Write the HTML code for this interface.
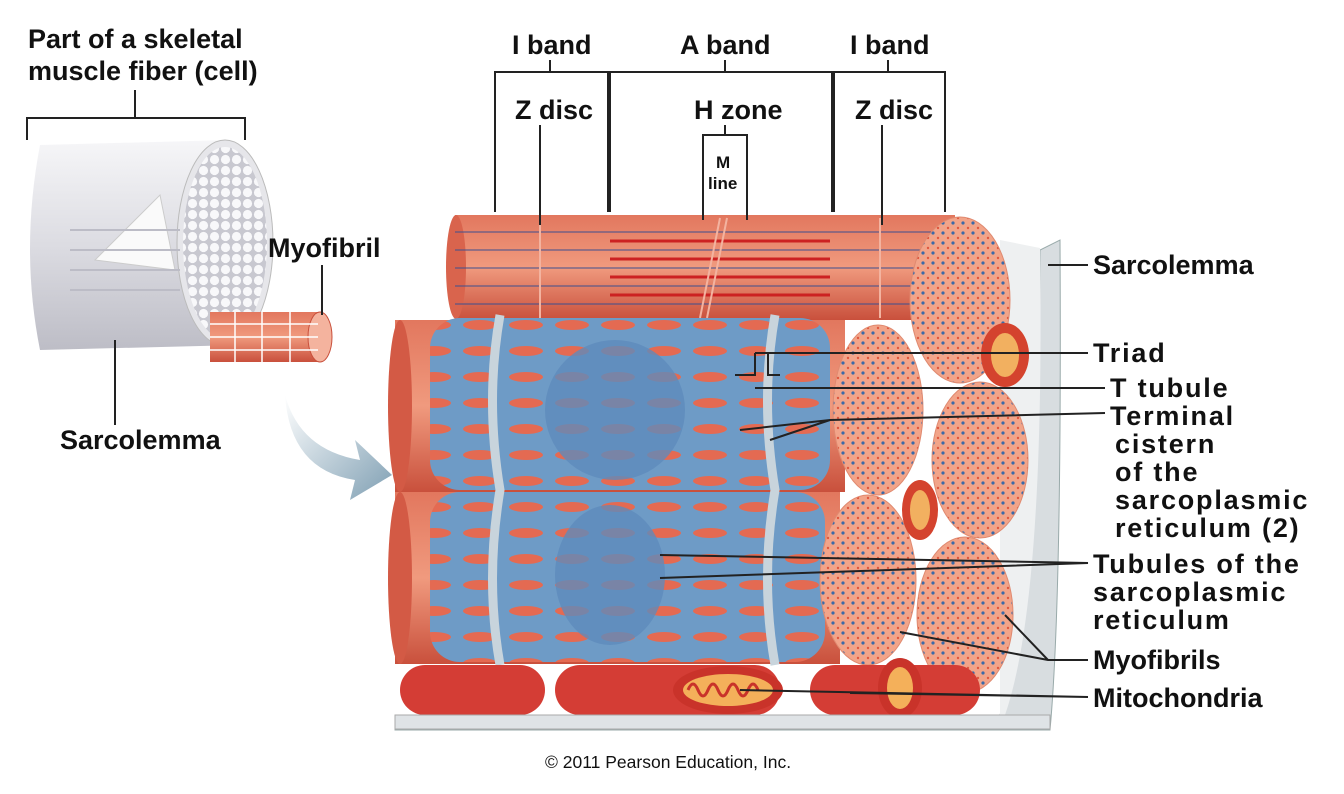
<!DOCTYPE html>
<html><head><meta charset="utf-8"><style>
html,body{margin:0;padding:0;background:#fff;}
svg{display:block;}
text{font-family:"Liberation Sans",Arial,sans-serif;font-weight:bold;font-size:27px;fill:#111;}
.w{letter-spacing:1.8px;}
</style></head><body>
<svg width="1344" height="794" viewBox="0 0 1344 794" xmlns="http://www.w3.org/2000/svg">
<defs>
<linearGradient id="fib" x1="0" y1="0" x2="0" y2="1"><stop offset="0" stop-color="#f6f6f8"/><stop offset="0.5" stop-color="#dcdce2"/><stop offset="1" stop-color="#bdbdc6"/></linearGradient>
<linearGradient id="red" x1="0" y1="0" x2="0" y2="1"><stop offset="0" stop-color="#e2775e"/><stop offset="0.5" stop-color="#f09a7e"/><stop offset="1" stop-color="#c9503c"/></linearGradient>
<pattern id="dots" width="10" height="10" patternUnits="userSpaceOnUse"><rect width="10" height="10" fill="#f2a489"/><circle cx="3" cy="3" r="1.6" fill="#3a6aa8"/><circle cx="8" cy="8" r="1.2" fill="#e0583f"/></pattern>
<pattern id="wdots" width="11" height="11" patternUnits="userSpaceOnUse"><rect width="11" height="11" fill="#c8c8d0"/><circle cx="5.5" cy="5.5" r="4.6" fill="#f8f8fa"/></pattern>
<pattern id="holes" width="46" height="26" patternUnits="userSpaceOnUse"><rect width="46" height="26" fill="#6e9bc6"/><ellipse cx="20" cy="13" rx="17" ry="5" fill="#e46a52"/></pattern>
<linearGradient id="arr" x1="0" y1="0" x2="1" y2="1"><stop offset="0" stop-color="#fff"/><stop offset="1" stop-color="#7f9fb3"/></linearGradient>
</defs>

<path d="M40 145 L230 140 Q275 220 240 345 L40 350 Q20 250 40 145Z" fill="url(#fib)"/>
<ellipse cx="225" cy="243" rx="48" ry="103" fill="#e6e6ea" stroke="#bbb"/>
<ellipse cx="225" cy="243" rx="42" ry="96" fill="url(#wdots)"/>
<path d="M95 260 L160 195 L175 270Z" fill="#fafafa" stroke="#ccc"/>
<g stroke="#bcbcc6" stroke-width="2"><line x1="70" y1="230" x2="180" y2="230"/><line x1="70" y1="250" x2="180" y2="250"/><line x1="70" y1="270" x2="180" y2="270"/><line x1="70" y1="290" x2="180" y2="290"/></g>
<rect x="210" y="312" width="110" height="50" fill="url(#red)"/>
<ellipse cx="320" cy="337" rx="12" ry="25" fill="#f4b39e" stroke="#c9503c"/>
<g stroke="#fff" stroke-width="1.5"><line x1="210" y1="324" x2="318" y2="324"/><line x1="210" y1="337" x2="318" y2="337"/><line x1="210" y1="350" x2="318" y2="350"/><line x1="235" y1="312" x2="235" y2="362"/><line x1="262" y1="312" x2="262" y2="362"/><line x1="290" y1="312" x2="290" y2="362"/></g>
<path d="M285 395 Q300 450 360 460 L355 440 L392 475 L350 500 L355 480 Q290 470 285 395Z" fill="url(#arr)"/>

<text x="28" y="48">Part of a skeletal</text>
<text x="28" y="80">muscle fiber (cell)</text>
<path d="M27 140 V118 H245 V140 M135 118 V90" stroke="#222" stroke-width="2" fill="none"/>
<text x="268" y="257">Myofibril</text>
<line x1="322" y1="265" x2="322" y2="315" stroke="#222" stroke-width="2"/>
<text x="60" y="449">Sarcolemma</text>
<line x1="115" y1="340" x2="115" y2="425" stroke="#222" stroke-width="2"/>

<path d="M395 715 H1000 Q1040 600 1040 250 L1060 240 Q1062 600 1050 730 H395Z" fill="#d8dde0" stroke="#9aa" />
<path d="M1000 240 L1040 248 Q1045 600 1005 715 L1000 715Z" fill="#eef0f1"/>

<rect x="455" y="215" width="500" height="105" fill="url(#red)"/>
<ellipse cx="456" cy="267" rx="10" ry="52" fill="#d9644d"/>
<g stroke="#3d4f8f" stroke-width="1"><line x1="455" y1="232" x2="955" y2="232"/><line x1="455" y1="250" x2="955" y2="250"/><line x1="455" y1="268" x2="955" y2="268"/><line x1="455" y1="286" x2="955" y2="286"/><line x1="455" y1="304" x2="955" y2="304"/></g>
<g stroke="#c22" stroke-width="3"><line x1="610" y1="241" x2="830" y2="241"/><line x1="610" y1="259" x2="830" y2="259"/><line x1="610" y1="277" x2="830" y2="277"/><line x1="610" y1="295" x2="830" y2="295"/></g>
<g stroke="#f3b3a0" stroke-width="2"><line x1="540" y1="218" x2="540" y2="318"/><line x1="880" y1="218" x2="880" y2="318"/><line x1="720" y1="218" x2="700" y2="318"/><line x1="727" y1="218" x2="707" y2="318"/></g>
<ellipse cx="960" cy="300" rx="50" ry="83" fill="url(#dots)" stroke="#e08a70"/>

<rect x="395" y="320" width="450" height="172" fill="url(#red)"/>
<rect x="395" y="492" width="445" height="172" fill="url(#red)"/>
<ellipse cx="400" cy="406" rx="12" ry="86" fill="#d35a45"/>
<ellipse cx="400" cy="578" rx="12" ry="86" fill="#d35a45"/>
<rect x="430" y="318" width="400" height="172" rx="30" fill="url(#holes)"/>
<rect x="430" y="492" width="395" height="170" rx="30" fill="url(#holes)"/>
<g fill="#5e8bbb"><ellipse cx="615" cy="410" rx="70" ry="70" opacity="0.8"/><ellipse cx="610" cy="575" rx="55" ry="70" opacity="0.8"/></g>
<g fill="none" stroke="#c8d4dc" stroke-width="9"><path d="M500 315 Q485 400 500 490 Q485 580 500 665"/><path d="M775 315 Q760 400 775 490 Q760 580 775 665"/></g>
<ellipse cx="878" cy="410" rx="45" ry="85" fill="url(#dots)" stroke="#e08a70"/>
<ellipse cx="980" cy="460" rx="48" ry="78" fill="url(#dots)" stroke="#e08a70"/>
<ellipse cx="868" cy="580" rx="48" ry="85" fill="url(#dots)" stroke="#e08a70"/>
<ellipse cx="965" cy="615" rx="48" ry="78" fill="url(#dots)" stroke="#e08a70"/>
<ellipse cx="1005" cy="355" rx="24" ry="32" fill="#d4432e"/><ellipse cx="1005" cy="355" rx="14" ry="22" fill="#f2b060"/>
<ellipse cx="920" cy="510" rx="18" ry="30" fill="#d4432e"/><ellipse cx="920" cy="510" rx="10" ry="20" fill="#f2b060"/>
<rect x="400" y="665" width="145" height="50" rx="25" fill="#d43d35"/>
<rect x="555" y="665" width="225" height="50" rx="25" fill="#d43d35"/>
<ellipse cx="728" cy="690" rx="55" ry="24" fill="#c9332a"/><ellipse cx="728" cy="690" rx="45" ry="16" fill="#f4b05a"/>
<path d="M688 690 q5 -12 10 0 t10 0 t10 0 t10 0 t10 0 t10 0 t10 0" stroke="#c9332a" stroke-width="3" fill="none"/>
<rect x="810" y="665" width="170" height="50" rx="25" fill="#d43d35"/>
<ellipse cx="900" cy="688" rx="22" ry="30" fill="#c9332a"/><ellipse cx="900" cy="688" rx="13" ry="21" fill="#f4b05a"/>
<rect x="395" y="715" width="655" height="14" fill="#dfe3e6" stroke="#aaa"/>

<text x="512" y="54">I band</text>
<text x="680" y="54">A band</text>
<text x="850" y="54">I band</text>
<g stroke="#222" stroke-width="2" fill="none">
<path d="M495 212 V72 H608 V212 M550 72 V60"/>
<path d="M610 212 V72 H832 V212 M725 72 V60"/>
<path d="M834 212 V72 H945 V212 M888 72 V60"/>
<line x1="540" y1="125" x2="540" y2="225"/>
<line x1="882" y1="125" x2="882" y2="225"/>
<path d="M703 220 V135 H747 V220 M725 135 V125"/>
</g>
<text x="515" y="119">Z disc</text>
<text x="855" y="119">Z disc</text>
<text x="694" y="119">H zone</text>
<text x="716" y="168" style="font-size:17px">M</text>
<text x="708" y="189" style="font-size:17px">line</text>

<g stroke="#222" stroke-width="2" fill="none">
<line x1="1048" y1="265" x2="1088" y2="265"/>
<path d="M755 353 H1088 M755 353 V375 H735 M780 375 H768 V353"/>
<line x1="755" y1="388" x2="1105" y2="388"/>
<path d="M740 430 L830 420 L1105 413 M770 440 L830 420"/>
<path d="M660 555 L1088 563 L660 578"/>
<path d="M900 632 L1048 660 L1088 660 M1005 615 L1048 660"/>
<path d="M740 690 L1088 697 M850 693 L1088 697"/>
</g>
<text x="1093" y="274">Sarcolemma</text>
<text class="w" x="1093" y="362">Triad</text>
<text class="w" x="1110" y="397">T tubule</text>
<text class="w" x="1110" y="425">Terminal</text>
<text class="w" x="1115" y="453">cistern</text>
<text class="w" x="1115" y="481">of the</text>
<text class="w" x="1115" y="509">sarcoplasmic</text>
<text class="w" x="1115" y="537">reticulum (2)</text>
<text class="w" x="1093" y="573">Tubules of the</text>
<text class="w" x="1093" y="601">sarcoplasmic</text>
<text class="w" x="1093" y="629">reticulum</text>
<text x="1093" y="669">Myofibrils</text>
<text x="1093" y="707">Mitochondria</text>
<text x="545" y="768" style="font-size:17.5px;font-weight:normal">© 2011 Pearson Education, Inc.</text>
</svg>
</body></html>
